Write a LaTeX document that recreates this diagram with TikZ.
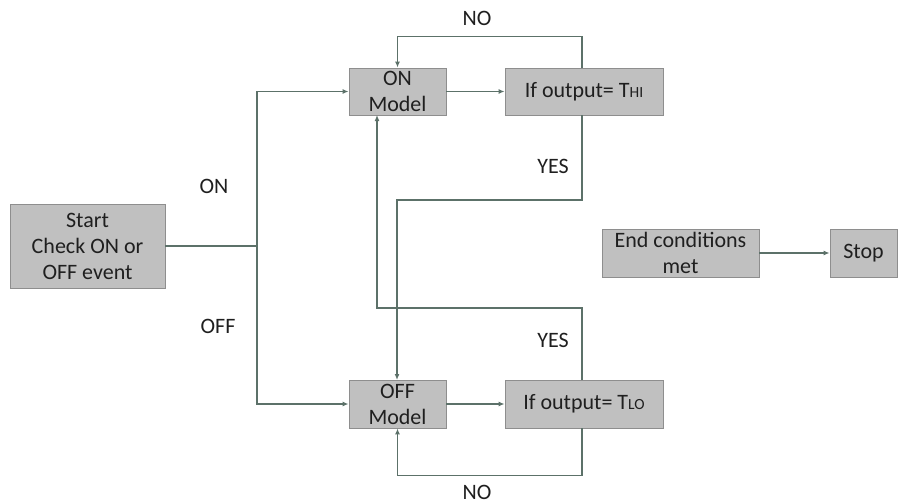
\documentclass[tikz,border=0pt]{standalone}
\usepackage{fontspec}
\setmainfont{Carlito}
\usetikzlibrary{arrows.meta}
\definecolor{boxfill}{HTML}{C0C0C0}
\definecolor{boxline}{HTML}{8E8E8E}
\definecolor{wire}{HTML}{5C7169}
\newcommand{\subsm}[1]{{\fontsize{15.5}{15.5}\selectfont #1}}
\begin{document}
\begin{tikzpicture}[x=1pt,y=-1pt,
  blk/.style={draw=boxline,line width=0.9pt,fill=boxfill,inner sep=0pt,align=center,
    font=\fontsize{22}{26}\selectfont,text=black!88},
  wire/.style={draw=wire,line width=1.5pt},
  arr/.style={wire,-{Latex[length=6pt,width=5pt]}},
  lbl/.style={font=\fontsize{22}{26}\selectfont,text=black!88,inner sep=0pt}]
\useasboundingbox (0,0) rectangle (907,503);
% boxes
\node[blk,minimum width=155pt,minimum height=84pt] (start) at (87.5,246) {Start\\Check ON or\\OFF event};
\node[blk,minimum width=97pt,minimum height=47pt] (on) at (397.5,91.5) {ON\\Model};
\node[blk,minimum width=158pt,minimum height=47pt] (thi) at (584,91.5) {If output= T\subsm{HI}};
\node[blk,minimum width=97pt,minimum height=48pt] (off) at (397.5,404) {OFF\\Model};
\node[blk,minimum width=158pt,minimum height=48pt] (tlo) at (584,404) {If output= T\subsm{LO}};
\node[blk,minimum width=157pt,minimum height=48pt] (endc) at (680.5,253) {End conditions\\met};
\node[blk,minimum width=67pt,minimum height=48pt] (stop) at (863.5,253) {Stop};
% labels
\node[lbl] (lno1) at (477,18) {NO};
\node[lbl] (lon) at (214,186) {ON};
\node[lbl] (lyes1) at (553,166) {YES};
\node[lbl] (loff) at (218,326) {OFF};
\node[lbl] (lyes2) at (553,340) {YES};
\node[lbl] (lno2) at (477,492) {NO};
% junction
\coordinate (j) at (257,246);
\draw[wire] (start.east) -- (j);
\draw[arr] (j) |- (on.west);
\draw[arr] (j) |- (off.west);
\draw[arr] (on.east) -- (thi.west);
\draw[arr] (off.east) -- (tlo.west);
\draw[arr] (endc.east) -- (stop.west);
% NO loop top
\draw[arr] ([xshift=-2pt]thi.north) -- ++(0,-31) -| (on.north);
% YES from THI to OFF
\draw[arr] ([xshift=-2pt]thi.south) |- (397,200) -- (397,380);
% YES from TLO to ON
\draw[arr] ([xshift=-2pt]tlo.north) |- (377,308) -- (377,115);
% NO loop bottom
\draw[arr] ([xshift=-2pt]tlo.south) -- ++(0,47) -| (off.south);
\end{tikzpicture}
\end{document}
